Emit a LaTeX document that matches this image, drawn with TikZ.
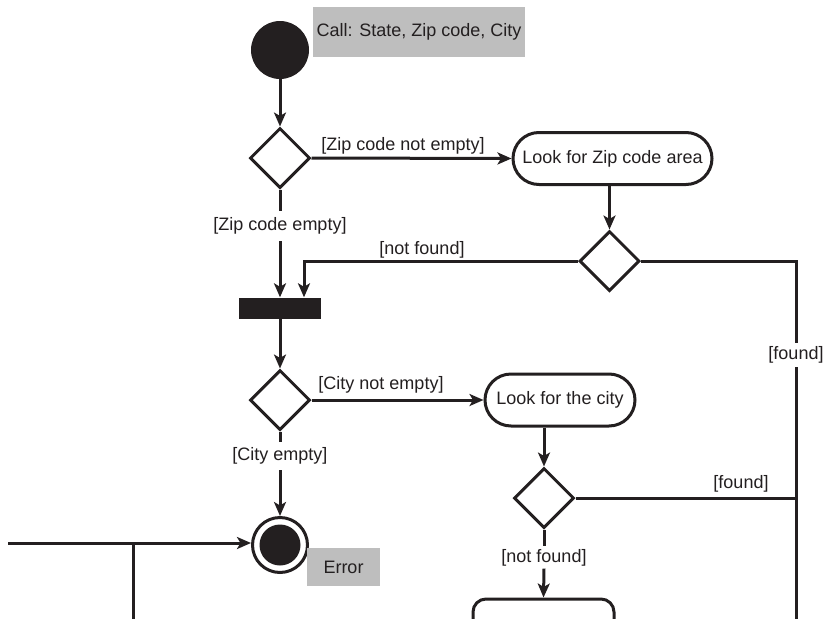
\documentclass[tikz,border=0pt]{standalone}
\usepackage{fontspec}
\setmainfont{Liberation Sans}
\usetikzlibrary{arrows.meta,shapes.geometric,shapes.misc}
\definecolor{ink}{RGB}{35,31,32}
\definecolor{notegray}{RGB}{190,190,190}

\begin{document}
\begin{tikzpicture}[x=1pt,y=-1pt,
  every node/.style={font=\fontsize{18}{21}\selectfont, text=ink},
  ln/.style={draw=ink, line width=3pt},
  flow/.style={ln, -{Stealth[length=14pt,width=12pt,inset=3.5pt]}},
  decision/.style={shape=diamond, ln, fill=white, inner sep=0pt,
    minimum width=60pt, minimum height=60pt},
  activity/.style={shape=rounded rectangle, ln, fill=white, inner sep=0pt,
    minimum height=52pt},
  startst/.style={shape=circle, fill=ink, inner sep=0pt, minimum size=58pt},
  endst/.style={shape=circle, ln, fill=white, inner sep=0pt, minimum size=55pt,
    path picture={\fill[ink] (path picture bounding box.center) circle (20.5pt);}},
  syncbar/.style={shape=rectangle, fill=ink, inner sep=0pt,
    minimum width=82pt, minimum height=21pt},
  note/.style={shape=rectangle, fill=notegray, inner sep=0pt},
  guard/.style={inner xsep=1pt, inner ysep=0pt, text height=13.5pt, text depth=4pt},
  breaker/.style={guard, fill=white},
]
\path[use as bounding box] (0,0) rectangle (823,619);
\clip (0,0) rectangle (823,619);

% states, decisions and activities
\node[startst] (start) at (280,50) {};
\node[note, minimum width=212pt, minimum height=50pt] (callnote) at (419,32) {Call: State, Zip code, City};
\node[decision] (d1) at (280,158) {};
\node[activity, minimum width=199pt] (zip) at (612.5,158.5) {Look for Zip code area};
\node[decision] (d2) at (609.5,261) {};
\node[syncbar] (join) at (280,308) {};
\node[decision] (d3) at (280,400) {};
\node[activity, minimum width=150pt] (city) at (560,400) {Look for the city};
\node[decision] (d4) at (544,498) {};
\node[endst] (final) at (280,545) {};
\node[note, minimum width=73pt, minimum height=38pt] (errnote) at (343.5,567) {Error};
\node[shape=rectangle, rounded corners=13pt, ln, fill=white,
  minimum width=141pt, minimum height=52pt] (next) at (543.5,625) {};

% guard labels
\node[guard] (gZipNE) at (403,146) {[Zip code not empty]};
\node[breaker, minimum height=30pt] (gZipE) at (280,226) {[Zip code empty]};
\node[guard] (gZipNF) at (422,250) {[not found]};
\node[breaker, minimum height=24pt] (gZipF) at (796,355) {[found]};
\node[guard] (gCityNE) at (381,385) {[City not empty]};
\node[breaker, minimum height=28pt] (gCityE) at (280,456) {[City empty]};
\node[guard] (gCityF) at (741,484) {[found]};
\node[breaker, minimum height=22pt] (gCityNF) at (544,557.5) {[not found]};

\coordinate (foundEnd) at (796,630);
\coordinate (inStart) at (8,543);
\coordinate (inBranch) at (133,630);

% control flow
\draw[flow] (start.south) -- (d1.north);
\draw[flow] (d1.east) -- (zip.west);
\draw[ln] (d1.south) -- (gZipE.north);
\draw[flow] (gZipE.south) -- (join.north);
\draw[flow] (zip.south -| d2.north) -- (d2.north);
\draw[flow] (d2.west) -| ([xshift=24pt]join.north);
\draw[ln] (d2.east) -| (gZipF.north);
\draw[ln] (gZipF.south) -- (foundEnd);
\draw[flow] (join.south) -- (d3.north);
\draw[flow] (d3.east) -- (city.west);
\draw[ln] (d3.south) -- (gCityE.north);
\draw[flow] (gCityE.south) -- (final.north);
\draw[flow] (city.south -| d4.north) -- (d4.north);
\draw[ln] (d4.east) -- (d4.east -| gZipF.south);
\draw[ln] (d4.south) -- (gCityNF.north);
\draw[flow] (gCityNF.south) -- (next.north);
\draw[flow] (inStart) -- (inStart -| final.west);
\draw[ln] (inStart -| inBranch) -- (inBranch);
\end{tikzpicture}
\end{document}
